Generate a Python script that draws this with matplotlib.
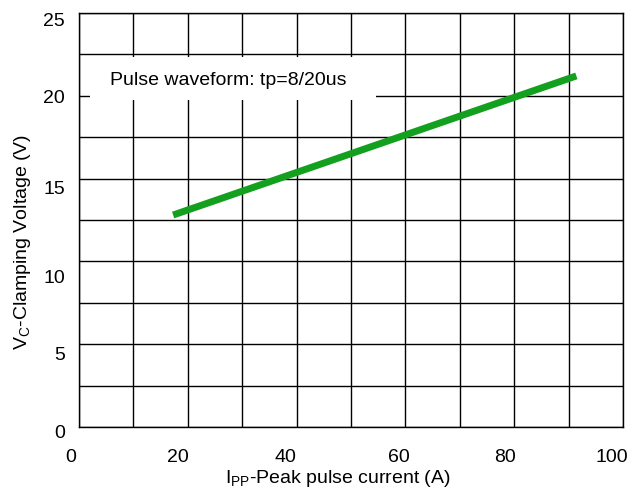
import matplotlib.pyplot as plt
import matplotlib.transforms as mtrans
from matplotlib.patches import Rectangle
import numpy as np

plt.rcParams["font.family"] = ["Liberation Sans", "DejaVu Sans"]

# clamping voltage vs peak pulse current
ipp = [17.3, 91.4]
vc = [12.8, 21.2]

x_ticks = [0, 20, 40, 60, 80, 100]
y_ticks = [0, 5, 10, 15, 20, 25]
x_grid = np.arange(0, 101, 10)
y_grid = np.arange(0, 25.1, 2.5)
note = "Pulse waveform: tp=8/20us"

# the labels in the original sit a bit off their grid lines (pixels)
x_lab_shift = [-8, -10, -11, -7, -9, -11]
y_lab_shift = [-5, -9, -15, -9, -1, -6]

fig = plt.figure(figsize=(6.32, 5.0), dpi=100)
ax = fig.add_axes([0.125, 0.146, 0.861, 0.828])

ax.plot(ipp, vc, "-", color="#13a01f", lw=5, solid_capstyle="butt", zorder=3)

ax.set_xlim(0, 100)
ax.set_ylim(0, 25)
ax.set_xticks(x_ticks)
ax.set_yticks(y_ticks)
ax.set_xticks(x_grid, minor=True)
ax.set_yticks(y_grid, minor=True)
ax.tick_params(which="both", length=0, labelsize=14)
ax.tick_params(axis="x", pad=16)
ax.tick_params(axis="y", pad=10)
ax.grid(which="both", color="black", lw=1.0)
ax.set_axisbelow(True)
for s in ax.spines.values():
    s.set_color("black")
    s.set_linewidth(1.0)

for lab, dx in zip(ax.get_xticklabels(), x_lab_shift):
    lab.set_transform(lab.get_transform() + mtrans.ScaledTranslation(dx / 100, 0, fig.dpi_scale_trans))
for lab, dy in zip(ax.get_yticklabels(), y_lab_shift):
    lab.set_transform(lab.get_transform() + mtrans.ScaledTranslation(0, dy / 100, fig.dpi_scale_trans))

# white note box over the grid
ax.add_patch(Rectangle((0.020, 0.790), 0.526, 0.104, transform=ax.transAxes,
                       facecolor="white", edgecolor="none", zorder=2))
ax.text(0.057, 0.836, note, transform=ax.transAxes, fontsize=14, va="center", ha="left", zorder=4)

ax.set_xlabel(r"I$_\mathregular{PP}$-Peak pulse current (A)", fontsize=14)
ax.set_ylabel(r"V$_\mathregular{C}$-Clamping Voltage (V)", fontsize=14)
ax.xaxis.set_label_coords(0.476, -0.099)
ax.yaxis.set_label_coords(-0.085, 0.448)

fig.savefig("out.png", dpi=100)
